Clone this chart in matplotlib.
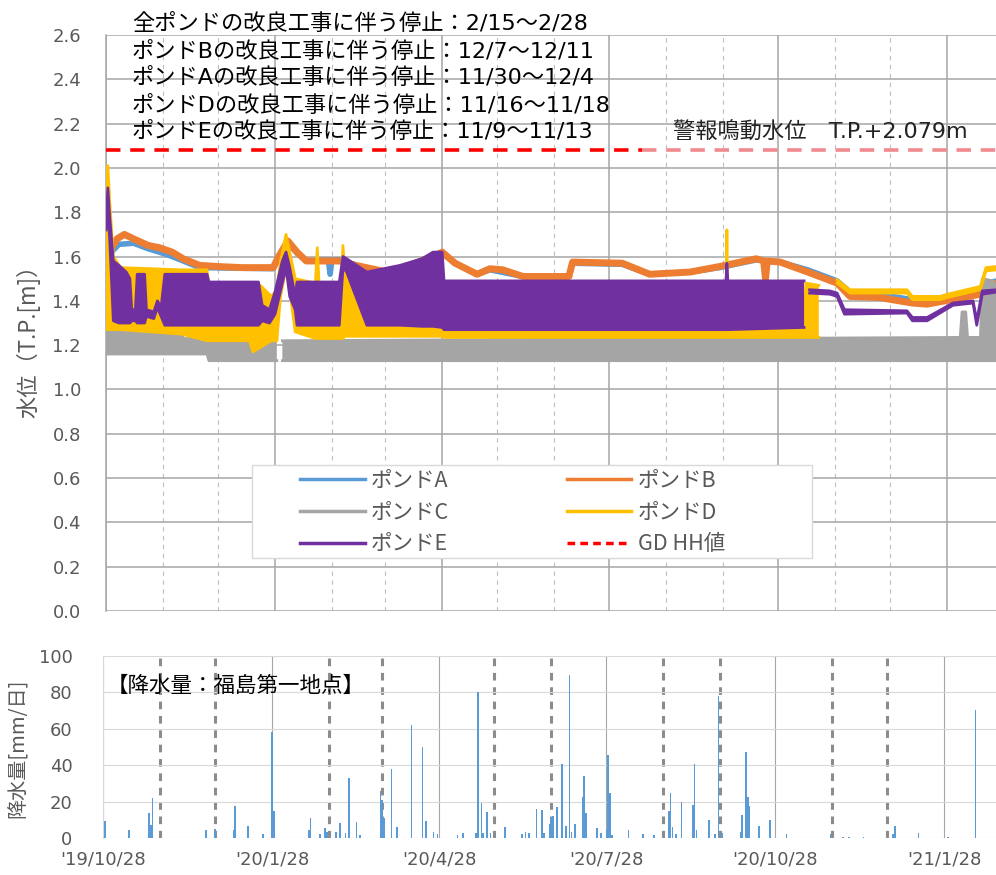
import matplotlib
matplotlib.use("Agg")
import matplotlib.pyplot as plt
from matplotlib.lines import Line2D
from matplotlib.patches import Rectangle
import numpy as np
import pandas as pd

plt.rcParams["font.family"] = ["Noto Sans CJK JP", "DejaVu Sans"]
LATIN_FIRST = ["DejaVu Sans", "Noto Sans CJK JP"]

nan = np.nan

# ---- axis layout data ----
QUARTER_TICKS = ["2019-10-28", "2020-01-28", "2020-04-28", "2020-07-28",
                 "2020-10-28", "2021-01-28"]
QUARTER_LABELS = ["'19/10/28", "'20/1/28", "'20/4/28", "'20/7/28",
                  "'20/10/28", "'21/1/28"]
MONTH_LINES = ["2019-11-28", "2019-12-28", "2020-02-28", "2020-03-28",
               "2020-05-28", "2020-06-28", "2020-08-28", "2020-09-28",
               "2020-11-28", "2020-12-28"]

NOTES = ["全ポンドの改良工事に伴う停止：2/15～2/28",
         "ポンドBの改良工事に伴う停止：12/7～12/11",
         "ポンドAの改良工事に伴う停止：11/30～12/4",
         "ポンドDの改良工事に伴う停止：11/16～11/18",
         "ポンドEの改良工事に伴う停止：11/9～11/13"]
HH_LABEL = "警報鳴動水位　T.P.+2.079m"
RAIN_LABEL = "【降水量：福島第一地点】"
SERIES_LABELS = ["ポンドA", "ポンドB", "ポンドC", "ポンドD", "ポンドE", "GD HH値"]

# ---- GD HH level ----
HH_LEVEL = 2.079
HH_DARK = ["2019-10-28", "2020-08-15"]
HH_LIGHT = ["2020-08-15", "2021-02-24"]

# ---- pond A (line) ----
A_DATES = ["2019-10-31", "2019-11-04", "2019-11-12", "2019-11-20", "2019-11-26",
           "2019-12-03", "2019-12-09", "2019-12-18", "2020-01-27", "2020-01-30",
           "2020-02-04", "2020-02-09", "2020-02-14", "2020-02-26", "2020-02-27",
           "2020-02-28", "2020-03-03", "2020-03-12", "2020-03-29", "2020-04-10",
           "2020-04-23", "2020-04-28", "2020-05-05", "2020-05-17", "2020-05-24",
           "2020-06-11", "2020-07-06", "2020-07-08", "2020-08-04", "2020-08-19",
           "2020-09-10", "2020-09-26", "2020-10-16", "2020-10-29", "2020-11-13",
           "2020-11-29", "2020-12-06", "2020-12-22", "2021-01-09", "2021-01-17",
           "2021-02-15", "2021-02-18", "2021-02-24"]
A_LEVEL = [1.62, 1.655, 1.66, 1.635, 1.62, 1.60, 1.58, 1.55, 1.545, 1.59,
           1.66, 1.615, 1.58, 1.585, 1.52, 1.585, 1.585, 1.56, 1.53, 1.555,
           1.60, 1.615, 1.57, 1.52, 1.54, 1.51, 1.51, 1.57, 1.565, 1.52,
           1.53, 1.55, 1.585, 1.575, 1.54, 1.49, 1.44, 1.43, 1.405, 1.40,
           1.44, 1.48, 1.49]

# ---- pond B (line) ----
B_DATES = ["2019-10-31", "2019-11-03", "2019-11-07", "2019-11-12", "2019-11-20",
           "2019-11-26", "2019-12-03", "2019-12-09", "2019-12-18", "2019-12-28",
           "2020-01-10", "2020-01-27", "2020-01-30", "2020-02-04", "2020-02-09",
           "2020-02-14", "2020-03-03", "2020-03-12", "2020-03-29", "2020-04-10",
           "2020-04-23", "2020-04-28", "2020-05-05", "2020-05-17", "2020-05-24",
           "2020-05-31", "2020-06-11", "2020-07-06", "2020-07-08", "2020-08-04",
           "2020-08-19", "2020-09-10", "2020-09-26", "2020-10-16", "2020-10-20",
           "2020-10-21", "2020-10-22", "2020-10-29", "2020-11-13", "2020-11-29",
           "2020-12-06", "2020-12-22", "2021-01-09", "2021-01-17", "2021-02-15",
           "2021-02-18", "2021-02-24"]
B_LEVEL = [1.64, 1.68, 1.70, 1.68, 1.65, 1.64, 1.62, 1.59, 1.56, 1.555,
           1.55, 1.55, 1.60, 1.67, 1.62, 1.58, 1.58, 1.56, 1.53, 1.56,
           1.60, 1.62, 1.57, 1.52, 1.545, 1.54, 1.51, 1.51, 1.575, 1.57,
           1.52, 1.53, 1.555, 1.59, 1.58, 1.50, 1.58, 1.575, 1.53, 1.48,
           1.42, 1.415, 1.39, 1.385, 1.43, 1.47, 1.48]

# ---- pond C (band: low / high envelope) ----
C_DATES = ["2019-10-28", "2019-12-08", "2019-12-09", "2019-12-22", "2019-12-23",
           "2020-01-29", "2020-01-30", "2020-02-01", "2021-02-04", "2021-02-05",
           "2021-02-07", "2021-02-08", "2021-02-15", "2021-02-16", "2021-02-22",
           "2021-02-24"]
C_LO = [1.16, 1.16, 1.16, 1.16, 1.13, 1.13, nan, 1.13, 1.13, 1.13,
        1.13, 1.13, 1.13, 1.13, 1.13, 1.13]
C_HI = [1.27, 1.27, 1.23, 1.23, 1.23, 1.23, nan, 1.22, 1.235, 1.35,
        1.35, 1.235, 1.235, 1.50, 1.49, 1.45]

# ---- pond D (band) ----
D_DATES = ["2019-10-28", "2019-10-29", "2019-10-30", "2019-11-01", "2019-11-05",
           "2019-12-08", "2019-12-22", "2019-12-23", "2020-01-14", "2020-01-16",
           "2020-01-20", "2020-01-26", "2020-01-29", "2020-01-31", "2020-02-03",
           "2020-02-05", "2020-02-08", "2020-02-19", "2020-02-20", "2020-02-21",
           "2020-03-04", "2020-03-05", "2020-03-06", "2020-03-18", "2020-03-20",
           "2020-04-28", "2020-04-29", "2020-09-29 12:00", "2020-09-30",
           "2020-09-30 12:00", "2020-11-11", "2020-11-12", "2020-11-19",
           "2020-11-20", "2020-11-29", "2020-12-06", "2021-01-06", "2021-01-09",
           "2021-01-24", "2021-01-28", "2021-02-15", "2021-02-18", "2021-02-24"]
D_LO = [1.27, 1.27, 1.27, 1.27, 1.27, 1.25, 1.22, 1.22, 1.22, 1.17,
        1.19, 1.22, 1.22, 1.42, 1.55, 1.45, 1.26, 1.23, 1.23, 1.23,
        1.23, 1.23, 1.24, 1.24, 1.24, 1.24, 1.235, 1.235, 1.235, 1.235,
        1.235, 1.235, 1.235, nan, 1.48, 1.435, 1.435, 1.405, 1.405, 1.415,
        1.45, 1.535, 1.54]
D_HI = [1.95, 2.01, 1.85, 1.60, 1.55, 1.54, 1.54, 1.47, 1.47, 1.47,
        1.47, 1.42, 1.45, 1.58, 1.70, 1.62, 1.50, 1.48, 1.64, 1.48,
        1.48, 1.65, 1.52, 1.50, 1.33, 1.33, 1.30, 1.30, 1.72, 1.30,
        1.30, 1.48, 1.47, nan, 1.495, 1.45, 1.45, 1.42, 1.42, 1.43,
        1.465, 1.55, 1.555]

# ---- pond E (band) ----
E_DATES = ["2019-10-28", "2019-10-29", "2019-10-30", "2019-11-01", "2019-11-04",
           "2019-11-08", "2019-11-10", "2019-11-11", "2019-11-13", "2019-11-14",
           "2019-11-18", "2019-11-19", "2019-11-23", "2019-11-25", "2019-11-27",
           "2019-11-29", "2019-12-22", "2019-12-23", "2020-01-19", "2020-01-21",
           "2020-01-25", "2020-01-28", "2020-02-01", "2020-02-03", "2020-02-05",
           "2020-02-08", "2020-02-09", "2020-03-03", "2020-03-05", "2020-03-07",
           "2020-03-18", "2020-04-05", "2020-04-17", "2020-04-23", "2020-04-28",
           "2020-04-29", "2020-09-29 12:00", "2020-09-30", "2020-09-30 12:00",
           "2020-11-11", "2020-11-12", "2020-11-14", "2020-11-25", "2020-11-29",
           "2020-12-03", "2021-01-06", "2021-01-09", "2021-01-17", "2021-01-31",
           "2021-02-11", "2021-02-13", "2021-02-16", "2021-02-24"]
E_LO = [1.72, 1.80, 1.68, 1.31, 1.30, 1.30, 1.30, 1.31, 1.31, 1.30,
        1.30, 1.33, 1.32, 1.37, 1.33, 1.29, 1.29, 1.29, 1.29, 1.31,
        1.30, 1.34, 1.48, 1.55, 1.42, 1.36, 1.29, 1.29, 1.55, 1.53,
        1.29, 1.29, 1.285, 1.285, 1.28, 1.27, 1.27, 1.27, 1.27, 1.28,
        nan, 1.435, 1.43, 1.42, 1.34, 1.345, 1.31, 1.31, 1.38, 1.39,
        1.29, 1.43, 1.44]
E_HI = [1.76, 1.91, 1.78, 1.58, 1.56, 1.53, 1.50, 1.36, 1.36, 1.52,
        1.52, 1.36, 1.35, 1.40, 1.37, 1.52, 1.52, 1.485, 1.485, 1.38,
        1.36, 1.44, 1.58, 1.62, 1.55, 1.42, 1.485, 1.485, 1.60, 1.59,
        1.53, 1.56, 1.59, 1.62, 1.62, 1.49, 1.49, 1.57, 1.49, 1.49,
        nan, 1.45, 1.445, 1.435, 1.36, 1.355, 1.325, 1.325, 1.39, 1.40,
        1.31, 1.445, 1.45]

# ---- daily rainfall (mm) ----
RAIN_DATES = ["2019-10-29", "2019-11-11", "2019-11-22", "2019-11-23", "2019-11-24",
              "2019-12-23", "2019-12-28", "2020-01-07", "2020-01-08", "2020-01-15",
              "2020-01-23", "2020-01-28", "2020-01-29", "2020-02-17", "2020-02-18",
              "2020-02-23", "2020-02-26", "2020-02-27", "2020-03-03", "2020-03-05",
              "2020-03-08", "2020-03-10", "2020-03-14", "2020-03-16", "2020-03-27",
              "2020-03-28", "2020-03-29", "2020-04-02", "2020-04-05", "2020-04-13",
              "2020-04-19", "2020-04-21", "2020-04-25", "2020-04-27", "2020-05-08",
              "2020-05-11", "2020-05-18", "2020-05-19", "2020-05-21", "2020-05-22",
              "2020-05-24", "2020-05-26", "2020-06-03", "2020-06-12", "2020-06-14",
              "2020-06-16", "2020-06-20", "2020-06-23", "2020-06-24", "2020-06-27",
              "2020-06-28", "2020-06-29", "2020-07-01", "2020-07-04", "2020-07-06",
              "2020-07-08", "2020-07-09", "2020-07-11", "2020-07-15", "2020-07-16",
              "2020-07-17", "2020-07-23", "2020-07-25", "2020-07-28", "2020-07-29",
              "2020-07-30", "2020-07-31", "2020-08-09", "2020-08-17", "2020-08-23",
              "2020-08-31", "2020-09-01", "2020-09-02", "2020-09-04", "2020-09-07",
              "2020-09-13", "2020-09-14", "2020-09-15", "2020-09-22", "2020-09-25",
              "2020-09-27", "2020-09-29", "2020-10-09", "2020-10-10", "2020-10-12",
              "2020-10-13", "2020-10-14", "2020-10-19", "2020-10-25", "2020-11-03",
              "2020-11-27", "2020-12-04", "2020-12-07", "2020-12-15", "2020-12-31",
              "2021-01-01", "2021-01-14", "2021-01-30", "2021-02-14"]
RAIN_MM = [9.5, 4.4, 14, 7, 22, 4.4, 5, 4.4, 17.6, 6.6,
           2, 58.4, 15, 4.4, 10.8, 2, 5.3, 3.5, 3.5, 8,
           2.5, 32.8, 8.6, 1.6, 26, 21, 11, 38, 6, 62,
           50, 9.5, 3.5, 2, 1.6, 3, 3, 80.4, 19, 2.5,
           14.5, 3, 5.9, 2, 3.5, 2.5, 16, 15.4, 2.5, 7.7,
           10.8, 12, 17, 40.6, 6.6, 89.6, 3.5, 7.5, 22.7, 34,
           14, 5.7, 3, 4.4, 45.6, 24.5, 1.6, 4.4, 2, 1.6,
           14.8, 24.5, 6, 2, 20, 18, 40.6, 4.4, 10, 2,
           78, 3, 3.5, 12.6, 47, 22.7, 17.6, 6.8, 10, 2,
           2, 0.7, 0.7, 0.7, 2, 6.8, 3, 0.7, 70.3]

COL_A, COL_B, COL_C, COL_D, COL_E = "#5B9BD5", "#ED7D31", "#A5A5A5", "#FFC000", "#7030A0"
COL_HH, COL_HH_LIGHT = "#FF0000", "#F08A8F"
TXT_GRAY = "#595959"

W, H = 996, 875


def fx(px):
    return px / W


def fy(py):
    return 1 - py / H


def to_dt(dates):
    return pd.to_datetime(dates, format="ISO8601")


def band(ax, dates, lo, hi, color, z):
    d = to_dt(dates)
    lo = np.array(lo, dtype=float)
    hi = np.array(hi, dtype=float)
    ax.fill_between(d, lo, hi, color=color, lw=0, zorder=z)
    ax.plot(d, lo, color=color, lw=2, zorder=z)
    ax.plot(d, hi, color=color, lw=2, zorder=z)


fig = plt.figure(figsize=(W / 100, H / 100), dpi=100)
fig.patch.set_facecolor("white")
x0 = pd.Timestamp(QUARTER_TICKS[0])

# ============ water level panel ============
ax1 = fig.add_axes([fx(106), fy(611), (996 - 106) / W, (611 - 35) / H])
ax1.set_xlim(x0, x0 + pd.Timedelta(days=(996 - 106) / 1.837))
ax1.set_ylim(0, 2.6)
yt = np.arange(0, 2.61, 0.2)
ax1.set_yticks(yt)
ax1.set_yticklabels([f"{v:.1f}" for v in yt], family=LATIN_FIRST)
ax1.yaxis.grid(True, color="#A6A6A6", lw=1.1, zorder=0)
ax1.set_axisbelow(True)
for d in MONTH_LINES:
    ax1.axvline(pd.Timestamp(d), color="#BFBFBF", lw=0.8, dashes=(4, 4), zorder=0.5)
for d in QUARTER_TICKS:
    ax1.axvline(pd.Timestamp(d), color="#A6A6A6", lw=1.1, zorder=0.5)
for s in ["top", "right", "bottom"]:
    ax1.spines[s].set_visible(False)
ax1.spines["left"].set_color("#A6A6A6")
ax1.spines["left"].set_linewidth(1.1)
ax1.tick_params(axis="y", length=0, pad=18, labelsize=13, labelcolor=TXT_GRAY)
ax1.tick_params(axis="x", length=0, labelbottom=False)

ax1.plot(to_dt(A_DATES), A_LEVEL, color=COL_A, lw=4, zorder=2)
ax1.plot(to_dt(B_DATES), B_LEVEL, color=COL_B, lw=5, zorder=3)
band(ax1, C_DATES, C_LO, C_HI, COL_C, 4)
band(ax1, D_DATES, D_LO, D_HI, COL_D, 5)
band(ax1, E_DATES, E_LO, E_HI, COL_E, 6)

ax1.plot(to_dt(HH_DARK), [HH_LEVEL] * 2, color=COL_HH, lw=2.6,
         dashes=(4, 2.7), zorder=7)
ax1.plot(to_dt(HH_LIGHT), [HH_LEVEL] * 2, color=COL_HH_LIGHT, lw=2.6,
         dashes=(4, 2.7), zorder=7)

# legend (Excel-like box)
ax1.add_patch(Rectangle((fx(252), fy(558)), (812 - 252) / W, (558 - 465) / H,
                        transform=fig.transFigure, facecolor="white",
                        edgecolor="#D9D9D9", lw=1, zorder=8, clip_on=False))
handles = [Line2D([], [], color=COL_A, lw=2.5),
           Line2D([], [], color=COL_C, lw=2.5),
           Line2D([], [], color=COL_E, lw=2.5),
           Line2D([], [], color=COL_B, lw=2.5),
           Line2D([], [], color=COL_D, lw=2.5),
           Line2D([], [], color=COL_HH, lw=2.5, dashes=(2.2, 1.5))]
labels = [SERIES_LABELS[0], SERIES_LABELS[2], SERIES_LABELS[4],
          SERIES_LABELS[1], SERIES_LABELS[3], SERIES_LABELS[5]]
leg = ax1.legend(handles, labels, ncol=2, loc="upper left",
                 bbox_to_anchor=(fx(300), fy(470)), bbox_transform=fig.transFigure,
                 frameon=False, handlelength=3.0, handletextpad=0.3,
                 columnspacing=5.45, labelspacing=0.45, borderpad=0, borderaxespad=0,
                 prop={"family": LATIN_FIRST[::-1], "size": 15.5})
leg.set_zorder(9)
for t in leg.get_texts():
    t.set_color(TXT_GRAY)

# ============ rainfall panel ============
ax2 = fig.add_axes([fx(103), fy(838), (996 - 103) / W, (838 - 656) / H])
ax2.set_xlim(x0, x0 + pd.Timedelta(days=(996 - 103) / 1.837))
ax2.set_ylim(0, 100)
ax2.set_yticks(np.arange(0, 101, 20))
ax2.set_yticklabels([str(v) for v in range(0, 101, 20)], family=LATIN_FIRST)
ax2.yaxis.grid(True, color="#D9D9D9", lw=0.8, zorder=0)
ax2.set_axisbelow(True)
for d in QUARTER_TICKS:
    ax2.axvline(pd.Timestamp(d), color="#A6A6A6", lw=0.8, zorder=0.5)
for d in MONTH_LINES:
    ax2.axvline(pd.Timestamp(d), color="#8C8C8C", lw=2.2, dashes=(2.5, 2.2), zorder=0.5)
for s in ["top", "right", "bottom"]:
    ax2.spines[s].set_visible(False)
ax2.spines["left"].set_color("#D9D9D9")
ax2.bar(to_dt(RAIN_DATES), RAIN_MM, width=0.9, color=COL_A, lw=0, zorder=3)
ax2.set_xticks(to_dt(QUARTER_TICKS))
ax2.set_xticklabels(QUARTER_LABELS, family=LATIN_FIRST)
ax2.tick_params(axis="both", length=0, labelsize=13, labelcolor=TXT_GRAY)
ax2.tick_params(axis="y", pad=22)
ax2.tick_params(axis="x", pad=9)

# ============ texts ============
for yc, s in zip([24, 51, 78, 105, 131], NOTES):
    fig.text(fx(132), fy(yc), s, fontsize=16, ha="left", va="center",
             color="black", family=LATIN_FIRST)
fig.text(fx(673), fy(132), HH_LABEL, fontsize=16, ha="left", va="center",
         color="#222222", family=LATIN_FIRST)
fig.text(fx(107), fy(686), RAIN_LABEL, fontsize=15.5, ha="left", va="center", color="black")
fig.text(fx(28), fy(336), "水位（T.P.[m]）", fontsize=16, rotation=90,
         ha="center", va="center", color=TXT_GRAY)
fig.text(fx(18), fy(748), "降水量[mm/日]", fontsize=14.5, rotation=90,
         ha="center", va="center", color=TXT_GRAY)

fig.savefig("out.png", dpi=100)
